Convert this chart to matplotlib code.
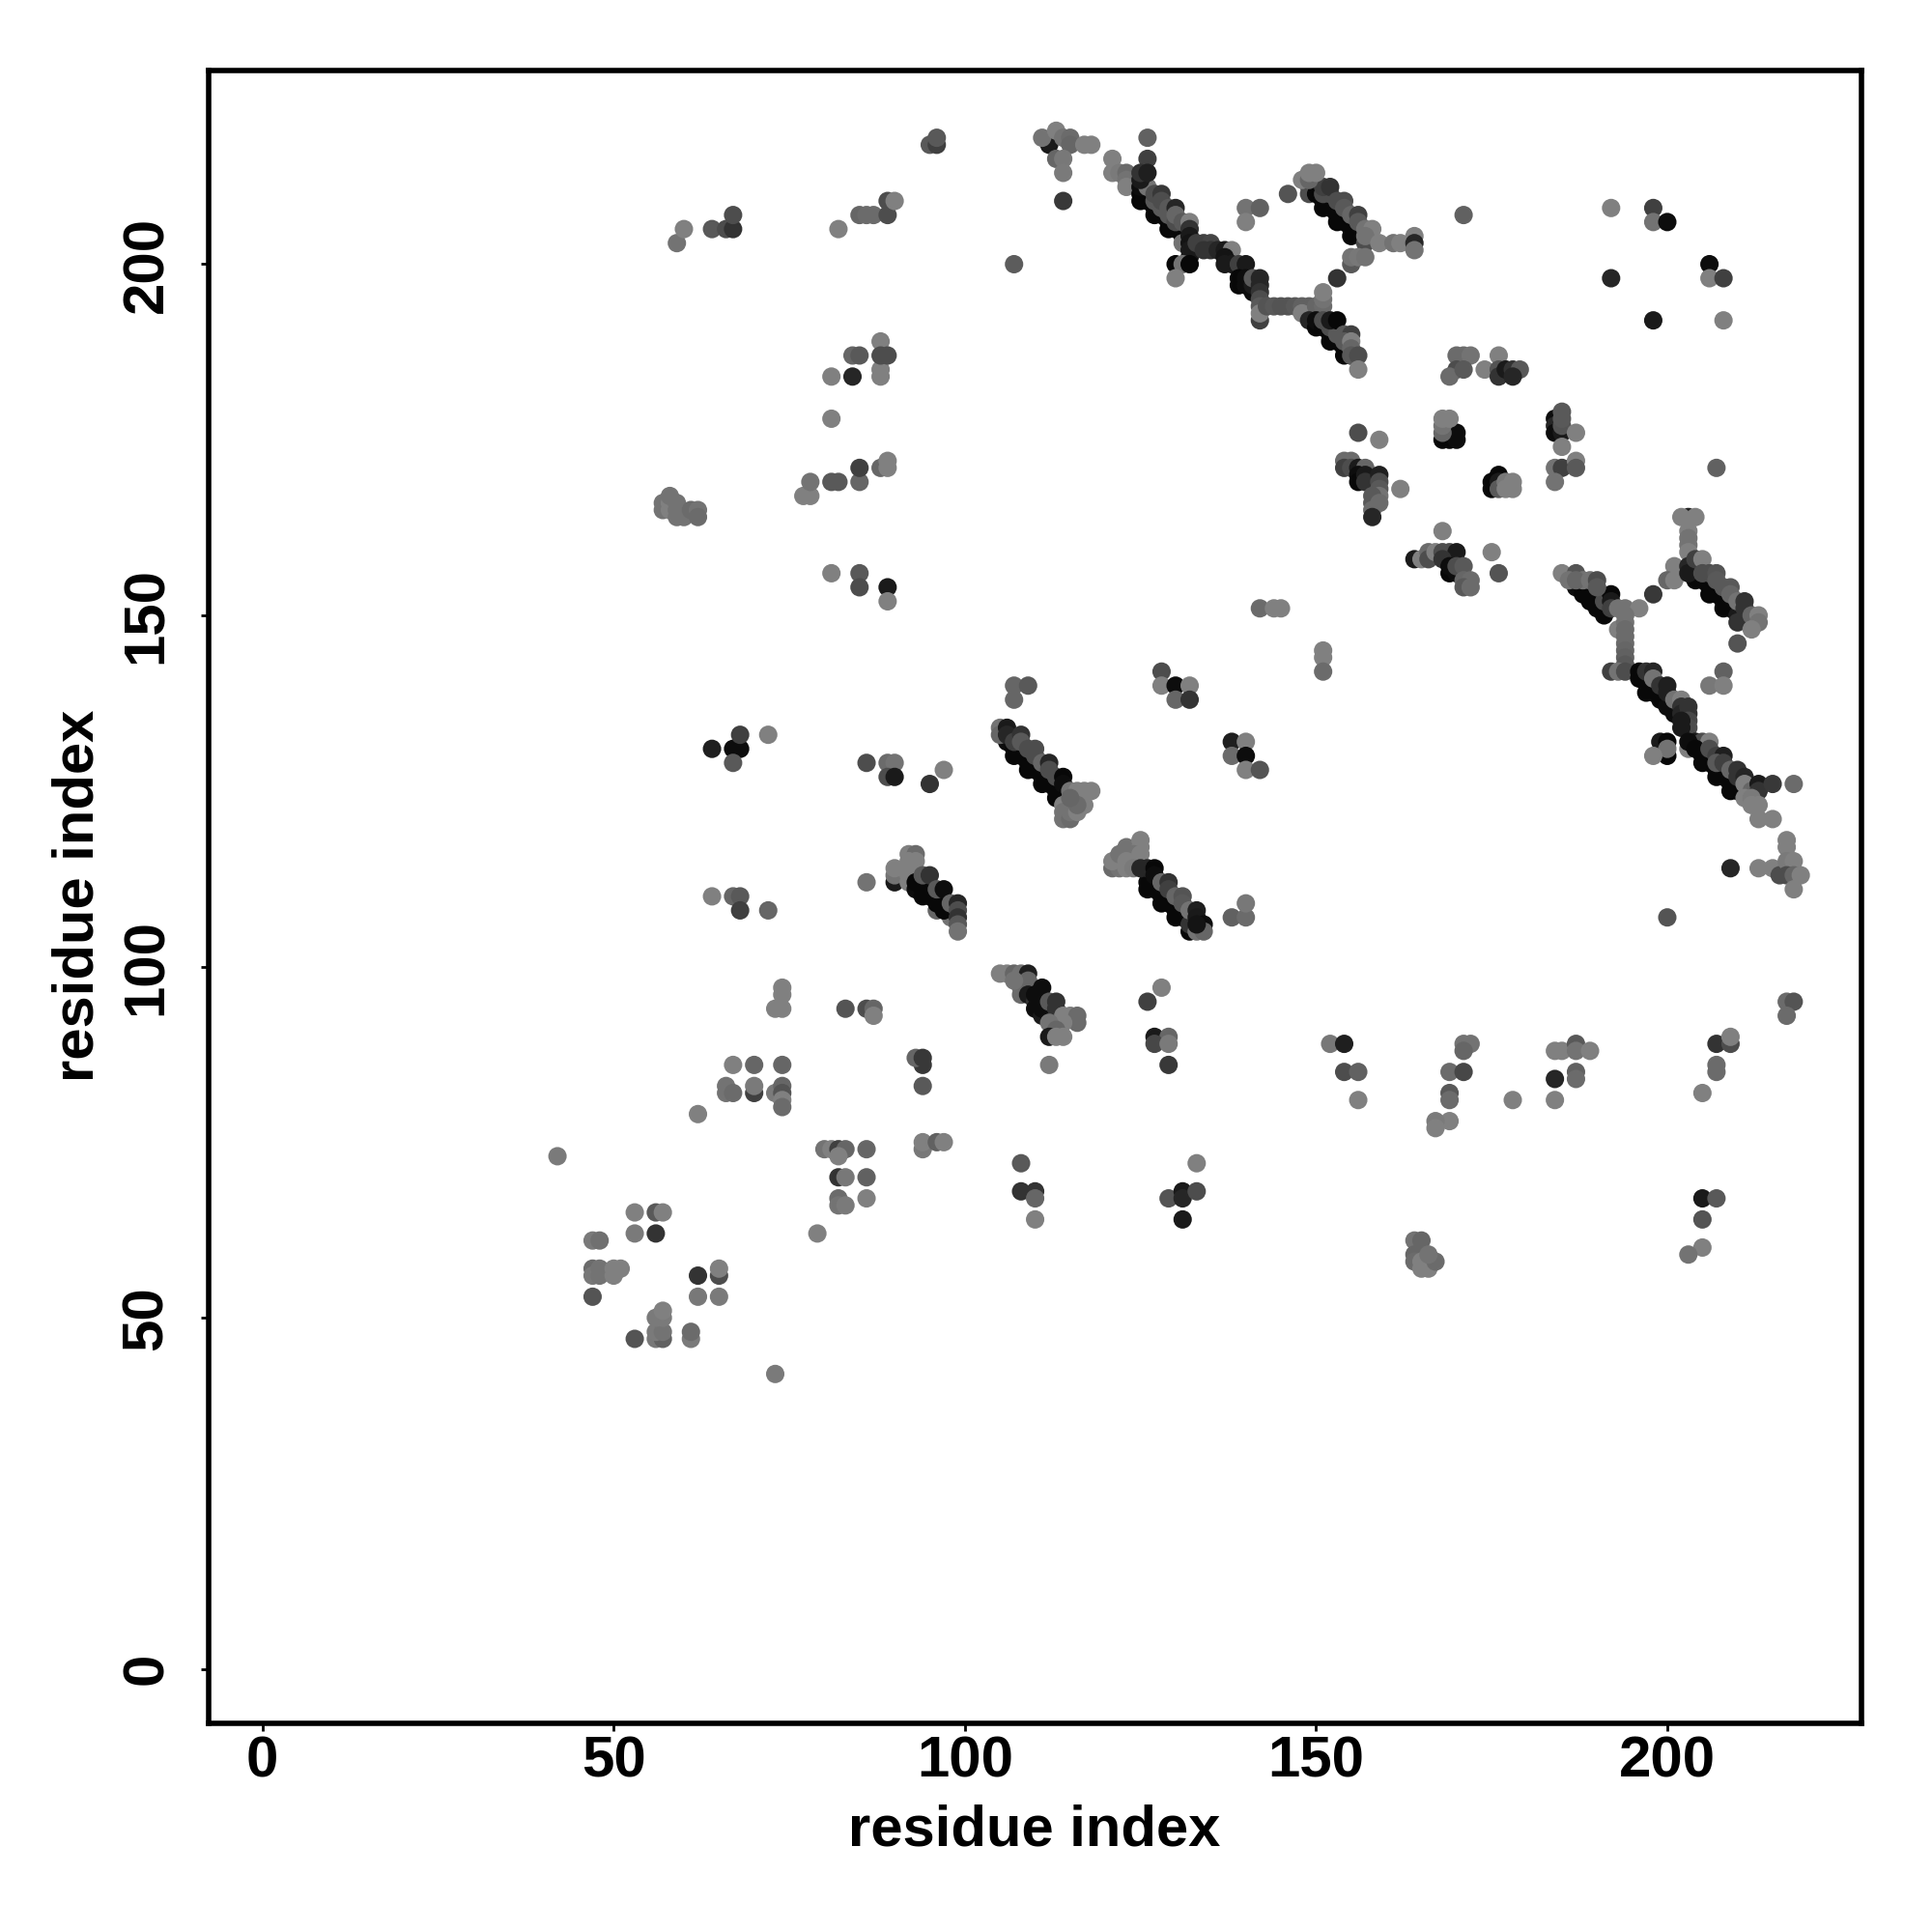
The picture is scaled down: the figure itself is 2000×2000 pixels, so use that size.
import numpy as np
import matplotlib
matplotlib.use('Agg')
import matplotlib.pyplot as plt

plt.rcParams['font.family'] = ['Liberation Sans', 'DejaVu Sans']

# contacts: (residue x, residue y, grey level)
bottom_left = [(73,42,.48),(53,47,.33),(56,47,.47),(57,47,.38),(56,48,.48),(57,48,.45),(56,50,.48),(57,50,.48),(57,51,.5),
    (61,47,.48),(61,48,.42),(47,53,.33),(62,53,.47),(65,53,.48),(62,56,.2),(65,56,.3),(65,57,.5),
    (47,57,.42),(47,56,.47),(48,57,.45),(48,56,.45),(50,56,.5),(50,57,.5),(51,57,.5),(47,61,.48),(48,61,.44),
    (53,62,.48),(56,62,.2),(53,65,.5),(56,65,.35),(57,65,.5),(42,73,.48),(62,79,.5),(79,62,.5)]
low_mid = [(80,74,.45),(81,74,.5),(82,74,.25),(83,74,.4),(82,73,.5),(86,74,.4),(82,70,.2),(83,70,.47),(86,70,.38),
    (82,67,.42),(82,66,.45),(83,66,.48),(86,67,.5),(94,74,.47),(94,75,.5),(96,75,.38),(97,75,.5),
    (66,83,.45),(66,82,.45),(67,82,.42),(70,82,.25),(70,83,.48),(73,82,.48),(74,83,.4),(74,82,.33),(74,81,.5),(74,80,.42),
    (67,86,.5),(70,86,.4),(74,86,.4),(94,83,.35),(94,86,.22),(93,87,.4),(94,87,.22),
    (73,94,.5),(74,94,.5),(74,96,.5),(74,97,.5),(83,94,.33),(86,94,.3),(87,94,.4),(87,93,.5)]
upper_left = [(59,203,.45),(60,205,.5),(64,205,.35),(66,205,.3),(67,205,.2),(67,207,.3),(82,205,.5),(85,207,.4),(86,207,.42),
    (87,207,.42),(89,207,.3),(89,209,.3),(90,209,.5),(95,217,.35),(96,217,.25),(96,218,.35),(107,200,.36),
    (57,165,.45),(57,166,.45),(58,165,.5),(58,166,.5),(58,167,.45),(59,165,.45),(59,166,.45),(59,164,.45),(60,164,.45),
    (61,165,.42),(62,165,.45),(62,164,.42),(77,167,.5),(78,167,.5),(78,169,.45),(81,169,.35),(82,169,.35),(85,169,.4),
    (85,171,.25),(88,171,.4),(89,171,.5),(89,172,.5),(81,178,.5),(81,184,.5),(84,184,.15),(84,187,.4),(85,187,.35),
    (88,184,.5),(88,185,.5),(88,189,.5),(88,187,.3),(89,187,.3),(81,156,.5),(85,156,.35),(85,154,.3),(89,154,.1),(89,152,.5)]
top_cap = [(112,217,.1),(111,218,.45),(113,219,.5),(113,215,.4),(114,218,.45),(115,218,.42),(115,217,.4),(114,215,.47),
    (114,213,.48),(114,209,.22),(117,217,.5),(118,217,.5),(121,215,.5),(121,213,.5),(122,213,.48),(123,213,.42),
    (123,212,.45),(123,211,.5),(126,218,.38),(126,215,.25)]
helix_top = [(125,209,.03),(127,207,.03),(129,205,.03),(125,210,.03),(126,209,.03),(127,208,.03),(128,207,.03),(129,206,.03),(130,205,.03),(131,204,.03),
    (125,211,.05),(126,211,.45),(127,209,.35),(129,207,.35),(128,208,.35),(130,206,.3),(125,212,.1),(125,213,.2),(126,213,.12),(127,210,.3),
    (128,210,.22),(128,209,.3),(129,208,.35),(130,208,.15),(130,207,.4),(131,206,.35),(132,206,.5),(131,203,.45),
    (132,205,.2),(132,204,.1),(132,203,.08),(132,202,.1),(132,201,.1),(130,200,.03),(131,200,.45),(132,200,.03),(130,198,.5),
    (133,203,.25),(134,203,.25),(135,203,.27),(134,202,.2),(135,202,.2),(136,202,.15),(137,202,.1),(138,202,.5),
    (137,201,.08),(137,200,.1),(138,200,.1),(139,200,.25),(140,200,.1),(139,198,.03),(139,197,.03),(140,198,.05),
    (140,197,.05),(141,196,.05),(141,197,.1),(141,198,.35),(142,198,.15),(142,197,.15),(142,196,.2),(142,195,.3),(142,194,.35),
    (142,192,.25),(142,193,.5),(140,208,.45),(142,208,.38),(140,206,.5)]
bridge = [(143,194,.33),(144,194,.35),(145,194,.33),(146,194,.33),(147,194,.35),(148,194,.38),(149,194,.38),(148,193,.5),
    (150,194,.4),(151,194,.42),(151,195,.45),(151,196,.5),(153,198,.2)]
helix_low = [(149,192,.15),(150,191,.03),(152,189,.03),(154,187,.03),(150,192,.05),(151,191,.03),(152,190,.03),(153,189,.03),(154,188,.03),(155,187,.05),
    (151,192,.3),(152,191,.3),(153,190,.35),(152,192,.1),(153,192,.03),(154,190,.35),(155,190,.25),(154,189,.35),(155,189,.5),(155,188,.4),
    (155,187,.35),(156,187,.3),(156,185,.5)]
helix_upper = [(149,211,.35),(149,210,.3),(151,208,.03),(153,206,.03),(155,204,.03),(150,210,.03),(151,209,.03),(152,208,.03),(153,207,.03),(154,206,.03),(155,205,.03),
    (151,210,.3),(152,210,.3),(151,211,.25),(152,211,.2),(153,209,.3),(154,209,.3),(154,208,.35),(155,207,.4),(156,207,.25),
    (156,206,.35),(148,212,.5),(149,212,.4),(149,213,.5),(150,213,.5),(146,210,.33),(157,205,.45),(158,205,.5),(157,203,.3),
    (157,204,.45),(159,203,.5),(161,203,.45),(162,203,.5),(164,204,.5),(164,203,.15),(164,202,.45),(155,200,.35),(155,201,.45),
    (156,201,.47),(157,201,.45)]
mid_right = [(156,176,.3),(159,175,.5),(154,172,.42),(155,172,.42),(154,171,.25),(155,171,.3),(156,171,.1),(157,171,.4),(156,170,.05),
    (156,169,.03),(157,170,.1),(157,169,.2),(159,170,.12),(159,169,.3),(159,168,.35),(159,167,.45),(158,167,.35),(158,166,.35),
    (159,166,.42),(158,165,.42),(158,164,.15),(162,168,.5),
    (168,175,.03),(169,175,.03),(170,175,.05),(170,176,.05),(168,176,.4),(168,177,.45),(168,178,.5),(169,178,.5),
    (176,170,.03),(175,169,.03),(175,168,.03),(176,169,.1),(176,168,.35),(177,169,.47),(178,169,.5),(177,168,.5),(178,168,.5),
    (184,178,.05),(184,177,.15),(184,176,.05),(185,176,.1),(185,177,.33),(185,178,.35),(185,179,.35),(187,176,.5),(185,174,.5),
    (184,171,.45),(185,171,.25),(187,172,.5),(187,171,.35),(184,169,.45),(207,171,.38)]
turn_158 = [(168,162,.5),(164,158,.1),(165,158,.5),(166,159,.42),(166,158,.3),(167,159,.5),(168,159,.3),(169,159,.3),(170,159,.1),
    (168,158,.2),(169,156,.03),(169,157,.05),(170,156,.05),(170,157,.3),(171,157,.35),(171,155,.4),(172,155,.42),(171,154,.35),
    (172,154,.42),(175,159,.5),(176,156,.33),(151,145,.5),(151,144,.5),(151,142,.42)]
helix_right_a = [(187,154,.05),(189,152,.03),(191,150,.03),(188,154,.03),(189,153,.03),(190,152,.03),(191,151,.03),
    (188,153,.03),(190,151,.03),(191,152,.3),(192,153,.03),(192,152,.1),(192,151,.25),
    (185,156,.5),(187,156,.33),(186,155,.45),(188,155,.45),(187,155,.4),(189,155,.45),(190,155,.3),(190,154,.35),(198,153,.22),
    (193,151,.45),(194,151,.45),(196,151,.5),(193,148,.5),(194,150,.45),(194,149,.45),(194,148,.42),(194,147,.42),(194,146,.42),
    (194,145,.4),(194,144,.38),(194,143,.35),(192,142,.25),(193,142,.45),(194,142,.3)]
helix_right_b = [(196,141,.03),(196,142,.03),(197,139,.03),(198,139,.03),(199,138,.03),(200,137,.05),(201,136,.05),
    (197,142,.2),(198,142,.15),(198,141,.45),(199,140,.2),(200,140,.12),(200,139,.12),
    (201,138,.45),(202,138,.5),(202,137,.2),(202,136,.15),(203,137,.2),(203,136,.2),(203,135,.28),(203,134,.3),(202,134,.1),(202,135,.1),
    (199,132,.1),(200,132,.03),(200,130,.03),(200,131,.45),(198,130,.5),(203,131,.5),(204,132,.1),(205,132,.3),(206,132,.5),
    (205,129,.03),(207,127,.03),(209,125,.03),(203,132,.05),(204,131,.03),(205,130,.03),(206,129,.03),(207,128,.03),(208,127,.03),(209,126,.03),(210,125,.03),
    (206,131,.3),(207,130,.25),(208,130,.12),(207,129,.35),(208,129,.25),(209,128,.4),(210,128,.2),(210,127,.2),(211,127,.15),(211,126,.5),(212,125,.4),(213,126,.1),(213,125,.2),
    (215,126,.22),(218,126,.42),(211,124,.5),(212,124,.48),(212,123,.5),(213,123,.5),(213,121,.5),(215,121,.5)]
helix_right_c = [(203,164,.12),(202,164,.5),(204,164,.5),(203,162,.5),(203,161,.45),(203,160,.45),(203,159,.5),(201,157,.5),(200,155,.4),
    (201,155,.5),(204,155,.03),(206,153,.03),(208,151,.03),(205,155,.03),(206,154,.03),(207,153,.03),(208,152,.03),(209,151,.03),(210,150,.1),(203,157,.15),(203,156,.1),
    (210,149,.2),(204,158,.25),(205,158,.5),(205,156,.3),(206,156,.3),(207,156,.33),(207,155,.35),(208,154,.35),(209,154,.35),(209,153,.4),(210,152,.45),
    (211,152,.2),(211,151,.2),(212,150,.4),(213,150,.5),(213,149,.45),(212,148,.5),(210,146,.33),(208,142,.38),(206,140,.47),(208,140,.5)]
rows_left = [(64,131,.12),(67,131,.05),(68,131,.05),(68,133,.25),(67,129,.35),(72,133,.5),(86,129,.3),(89,129,.42),(90,129,.45),
    (89,127,.3),(90,127,.1),(97,128,.5),(95,126,.2),(64,110,.5),(67,110,.4),(68,110,.35),(68,108,.25),(72,108,.4),(86,112,.45)]
helix_a = [(90,112,.1),(90,113,.45),(90,114,.5),(92,116,.5),(93,116,.42),(92,115,.5),(93,115,.5),(92,114,.5),(92,113,.5),(92,112,.5),
    (96,108,.4),(98,107,.45),(93,111,.05),(94,110,.03),(93,112,.03),(94,111,.03),(95,110,.03),(96,109,.03),(97,108,.03),
    (94,113,.35),(95,113,.2),(96,111,.35),(97,111,.05),(98,109,.4),(99,109,.15),(99,108,.3),(99,107,.2),(99,106,.35),(99,105,.45)]
helix_b = [(107,130,.03),(109,128,.03),(111,126,.03),(113,124,.03),(106,132,.05),(107,131,.03),(108,130,.03),(109,129,.03),(110,128,.03),(111,127,.03),(112,126,.03),(113,125,.03),
    (105,134,.45),(105,133,.4),(106,134,.1),(106,133,.15),(107,132,.25),(108,133,.2),(108,132,.35),(109,131,.3),(110,131,.3),(110,130,.3),(111,129,.4),(112,129,.15),
    (112,128,.3),(113,127,.3),(114,127,.03),(114,126,.05),(115,125,.45),(116,125,.5),(117,125,.5),(118,125,.5),(114,123,.5),(114,122,.45),
    (114,121,.45),(115,121,.42),(115,122,.45),(116,122,.5),(117,123,.5),(116,123,.42),(115,124,.4)]
helix_c = [(126,111,.03),(128,109,.03),(130,107,.03),(132,105,.03),(126,112,.03),(127,111,.03),(128,110,.03),(129,109,.03),(130,108,.03),(131,107,.03),(132,106,.2),
    (121,114,.42),(122,114,.45),(121,115,.5),(122,116,.45),(123,117,.45),(125,118,.5),(125,117,.5),(124,116,.45),(123,115,.5),(125,116,.5),(123,114,.5),(124,114,.48),
    (125,114,.15),(126,114,.15),(127,114,.03),(127,113,.05),(128,112,.4),(129,112,.2),(129,111,.25),(130,110,.4),(131,110,.33),
    (131,109,.35),(132,108,.45),(133,108,.12),(133,107,.1),(134,106,.05),(133,105,.45),(134,105,.4),(133,106,.08)]
helix_d = [(105,99,.5),(106,99,.5),(107,99,.4),(108,99,.45),(109,99,.12),(108,96,.42),(108,97,.42),(109,98,.4),(107,98,.45),
    (109,96,.1),(110,95,.2),(110,94,.05),(110,96,.05),(111,97,.05),(111,93,.1),(111,94,.05),(112,93,.05),(113,92,.1),
    (112,95,.35),(113,95,.2),(113,94,.2),(114,93,.5),(115,93,.5),(116,93,.42),(116,92,.42),(114,92,.5),(112,92,.45),(113,91,.4),
    (112,90,.1),(113,90,.5),(114,90,.5),(112,86,.48)]
mid_scatter = [(138,107,.38),(140,107,.42),(140,109,.47),(138,132,.12),(140,132,.5),(138,130,.42),(140,130,.05),(140,128,.5),(142,128,.33),
    (128,97,.5),(126,95,.25),(127,90,.1),(129,90,.4),(127,89,.28),(129,89,.48),(129,86,.22),(107,140,.4),(109,140,.35),(107,138,.4),
    (128,142,.3),(128,140,.5),(130,140,.05),(132,140,.5),(130,138,.4),(132,138,.2),(142,151,.42),(144,151,.5),(145,151,.5)]
lower_right = [(152,89,.47),(154,89,.12),(154,85,.3),(156,85,.38),(156,81,.5),(169,85,.42),(171,89,.45),(172,89,.45),(171,88,.4),(171,85,.28),
    (169,82,.35),(169,81,.42),(169,78,.5),(167,78,.48),(167,77,.5),(178,81,.5),(184,88,.5),(185,88,.5),(187,89,.35),(187,88,.45),(189,88,.5),
    (184,84,.15),(187,85,.38),(187,84,.42),(184,81,.5),(207,89,.2),(209,89,.3),(209,90,.5),(207,86,.42),(207,85,.42),(205,82,.5),
    (217,95,.42),(218,95,.33),(217,93,.42),(200,107,.33),(209,114,.15),(213,114,.5),(215,114,.5),(216,113,.3),(217,118,.5),(217,117,.5),
    (217,115,.48),(218,115,.5),(217,113,.3),(218,113,.4),(219,113,.5),(218,111,.5)]
bottom_mid = [(108,72,.35),(108,68,.2),(110,68,.2),(110,67,.4),(110,64,.5),(129,67,.33),(131,68,.1),(131,67,.15),(133,68,.3),(133,72,.5),(131,64,.1),
    (164,61,.45),(165,61,.4),(164,59,.4),(164,58,.42),(165,58,.5),(165,57,.5),(166,57,.5),(167,58,.42),(166,59,.45),
    (205,67,.1),(207,67,.35),(205,64,.33),(205,60,.5),(203,59,.45)]
top_right = [(192,198,.15),(192,208,.5),(198,208,.25),(198,206,.45),(200,206,.05),(206,200,.05),(206,198,.5),(208,198,.25),(198,192,.1),(208,192,.5),
    (171,207,.38),(170,187,.42),(171,187,.42),(172,187,.45),(170,185,.3),(169,184,.42),(171,185,.35),(174,185,.5),(176,187,.5),(176,185,.33),
    (176,184,.2),(177,185,.1),(178,185,.2),(179,185,.35),(178,184,.15)]

contacts = np.array(bottom_left+low_mid+upper_left+top_cap+helix_top+bridge+helix_low+helix_upper+mid_right+turn_158
    +helix_right_a+helix_right_b+helix_right_c+rows_left+helix_a+helix_b+helix_c+helix_d+mid_scatter+lower_right+bottom_mid+top_right)

tick_vals = [0,50,100,150,200]
axis_label = 'residue index'

fig = plt.figure(figsize=(10,10),dpi=200)
ax = fig.add_axes([0.108,0.108,0.8557,0.8556])
ax.scatter(contacts[:,0],contacts[:,1],s=47,c=[str(g) for g in contacts[:,2]],linewidths=0,zorder=2)
ax.set_xlim(-7.66,227.7)
ax.set_ylim(-7.74,227.6)
ax.set_xticks(tick_vals)
ax.set_yticks(tick_vals)
ax.tick_params(axis='x',length=3,width=1,pad=1.5,labelsize=21.6)
ax.tick_params(axis='y',length=3,width=1,pad=10,labelsize=21.6)
for lab in ax.get_xticklabels():
    lab.set_fontweight('bold')
for lab in ax.get_yticklabels():
    lab.set_fontweight('bold')
    lab.set_rotation(90)
    lab.set_va('center')
for side in ['top','bottom','left','right']:
    ax.spines[side].set_linewidth(2)

fig.text(0.5355,0.0525,axis_label,fontsize=21.5,fontweight='bold',ha='center',va='center')
fig.text(0.0405,0.5365,axis_label,fontsize=21.5,fontweight='bold',ha='center',va='center',rotation=90)

fig.savefig('out.png',dpi=200,facecolor='white')
plt.close('all')
